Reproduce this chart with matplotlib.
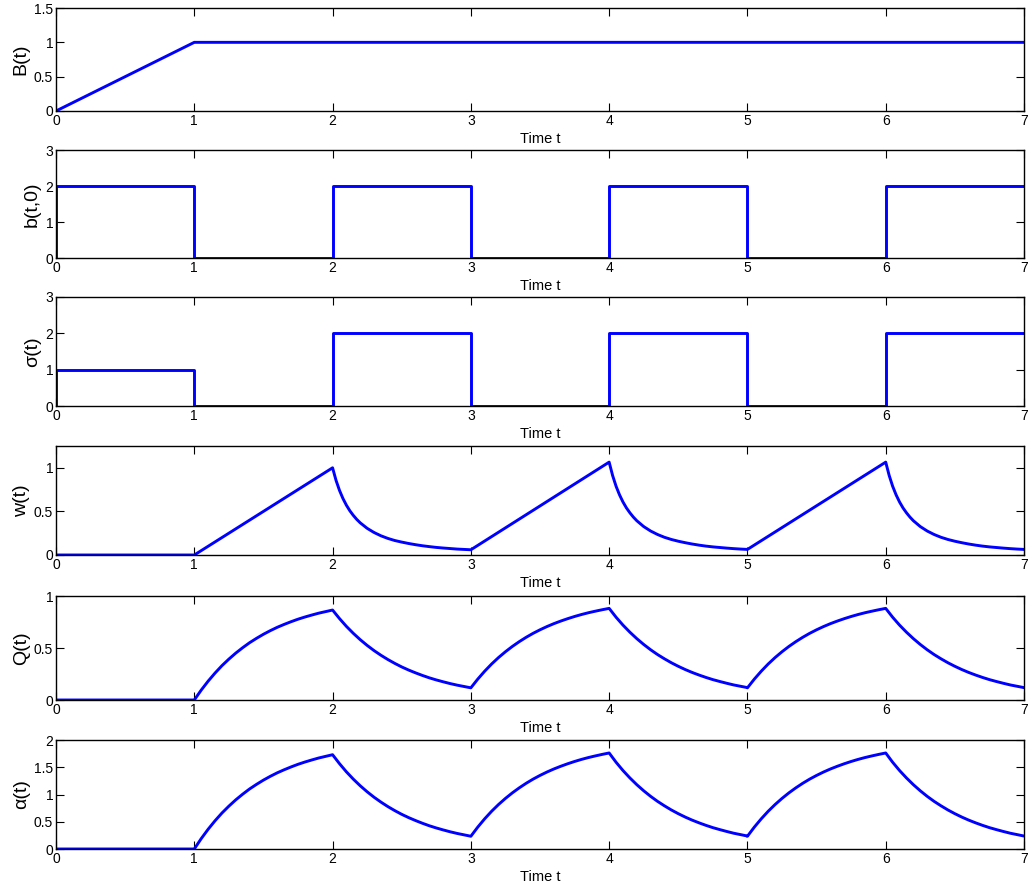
import matplotlib
matplotlib.use('Agg')
import matplotlib.pyplot as plt

plt.rcParams['font.family'] = ['Liberation Sans', 'DejaVu Sans']

# B(t): ramp then flat
t_B = [0, 1, 7]
B = [0, 1, 1]

# step signals (steps-post)
t_step = [0, 0, 1, 2, 3, 4, 5, 6, 7]
b_t0 = [0, 2, 0, 2, 0, 2, 0, 2, 2]
sigma = [0, 1, 0, 2, 0, 2, 0, 2, 2]

# w(t): linear rise on [1,2], [3,4], [5,6]; decay after each peak
w_off = [0, 0.025, 0.05, 0.075, 0.1, 0.125, 0.15, 0.175, 0.2,
         0.25, 0.3, 0.35, 0.4, 0.45, 0.5, 0.55, 0.6, 0.65, 0.7,
         0.75, 0.8, 0.85, 0.9, 0.95, 1.0]
w_decay1 = [1.0, 0.856, 0.741, 0.648, 0.571, 0.507, 0.454, 0.408, 0.369,
            0.306, 0.258, 0.220, 0.190, 0.166, 0.148, 0.132, 0.118, 0.106, 0.096,
            0.087, 0.080, 0.074, 0.068, 0.064, 0.060]
w_decay2 = [1.065, 0.912, 0.789, 0.690, 0.608, 0.540, 0.484, 0.435, 0.393,
            0.326, 0.275, 0.235, 0.203, 0.178, 0.158, 0.141, 0.126, 0.113, 0.102,
            0.093, 0.086, 0.079, 0.073, 0.068, 0.064]
w_decay3 = list(w_decay2)

t_w = [0, 1] + [2 + s for s in w_off] + [4 + s for s in w_off] + [6 + s for s in w_off]
w = [0, 0] + w_decay1 + w_decay2 + w_decay3

# Q(t), alpha(t): sampled every 0.05 on each unit interval
q_off = [i * 0.05 for i in range(21)]
Q_rise1 = [0, 0.095, 0.181, 0.259, 0.330, 0.393, 0.451, 0.503, 0.551, 0.593, 0.632,
           0.667, 0.699, 0.727, 0.753, 0.777, 0.798, 0.817, 0.835, 0.850, 0.865]
Q_fall1 = [0.865, 0.783, 0.708, 0.641, 0.580, 0.525, 0.475, 0.430, 0.389, 0.352, 0.318,
           0.288, 0.261, 0.236, 0.213, 0.193, 0.175, 0.158, 0.143, 0.130, 0.117]
Q_rise2 = [0.117, 0.201, 0.277, 0.346, 0.408, 0.464, 0.515, 0.561, 0.603, 0.641, 0.675,
           0.706, 0.734, 0.759, 0.782, 0.803, 0.822, 0.839, 0.854, 0.868, 0.881]
Q_fall2 = [0.881, 0.796, 0.720, 0.652, 0.590, 0.534, 0.483, 0.437, 0.396, 0.358, 0.324,
           0.293, 0.265, 0.240, 0.217, 0.196, 0.178, 0.161, 0.145, 0.132, 0.119]

a_rise1 = [0, 0.19, 0.362, 0.518, 0.660, 0.786, 0.902, 1.006, 1.102, 1.186, 1.264,
           1.334, 1.398, 1.454, 1.506, 1.554, 1.596, 1.634, 1.670, 1.700, 1.730]
a_fall1 = [1.730, 1.566, 1.416, 1.282, 1.160, 1.050, 0.950, 0.860, 0.778, 0.704, 0.636,
           0.576, 0.522, 0.472, 0.426, 0.386, 0.350, 0.316, 0.286, 0.260, 0.234]
a_rise2 = [0.234, 0.402, 0.554, 0.692, 0.816, 0.928, 1.030, 1.122, 1.206, 1.282, 1.350,
           1.412, 1.468, 1.518, 1.564, 1.606, 1.644, 1.678, 1.708, 1.736, 1.762]
a_fall2 = [1.762, 1.592, 1.440, 1.304, 1.180, 1.068, 0.966, 0.874, 0.792, 0.716, 0.648,
           0.586, 0.530, 0.480, 0.434, 0.392, 0.356, 0.322, 0.290, 0.264, 0.238]

t_Q = [0]
for start in range(1, 7):
    t_Q += [start + s for s in q_off]
Q = [0] + Q_rise1 + Q_fall1 + Q_rise2 + Q_fall2 + Q_rise2 + Q_fall2
alpha = [0] + a_rise1 + a_fall1 + a_rise2 + a_fall2 + a_rise2 + a_fall2

W, H = 1028, 888
fig = plt.figure(figsize=(W / 100, H / 100), dpi=100)

# (top, bottom) of each panel in pixels
rows = [(8, 111), (150, 258), (297, 406), (446, 555), (596, 700), (740, 849)]
left, right = 56, 1024

panels = [
    (t_B, B, 'B(t)', (0, 1.5), [0, 0.5, 1, 1.5], ['0', '0.5', '1', '1.5'], None),
    (t_step, b_t0, 'b(t,0)', (0, 3), [0, 1, 2, 3], ['0', '1', '2', '3'], 'steps-post'),
    (t_step, sigma, 'σ(t)', (0, 3), [0, 1, 2, 3], ['0', '1', '2', '3'], 'steps-post'),
    (t_w, w, 'w(t)', (0, 1.25), [0, 0.5, 1], ['0', '0.5', '1'], None),
    (t_Q, Q, 'Q(t)', (0, 1), [0, 0.5, 1], ['0', '0.5', '1'], None),
    (t_Q, alpha, 'α(t)', (0, 2), [0, 0.5, 1, 1.5, 2], ['0', '0.5', '1', '1.5', '2'], None),
]

for (top, bot), (x, y, lab, ylim, yt, ytl, ds) in zip(rows, panels):
    ax = fig.add_axes([left / W, 1 - bot / H, (right - left) / W, (bot - top) / H])
    if ds:
        ax.plot(x, y, color='#0000ff', lw=2.1, drawstyle=ds)
    else:
        ax.plot(x, y, color='#0000ff', lw=2.1)
    ax.set_xlim(0, 7)
    ax.set_ylim(*ylim)
    ax.set_xticks(range(8))
    ax.set_yticks(yt)
    ax.set_yticklabels(ytl)
    ax.tick_params(direction='in', top=True, right=True, length=6, width=0.8,
                   labelsize=10, pad=2)
    for s in ax.spines.values():
        s.set_linewidth(1.0)
    ax.set_ylabel(lab, fontsize=14, labelpad=3)
    ax.set_xlabel('Time t', fontsize=10.5, labelpad=3)

fig.savefig('out.png', dpi=100)
